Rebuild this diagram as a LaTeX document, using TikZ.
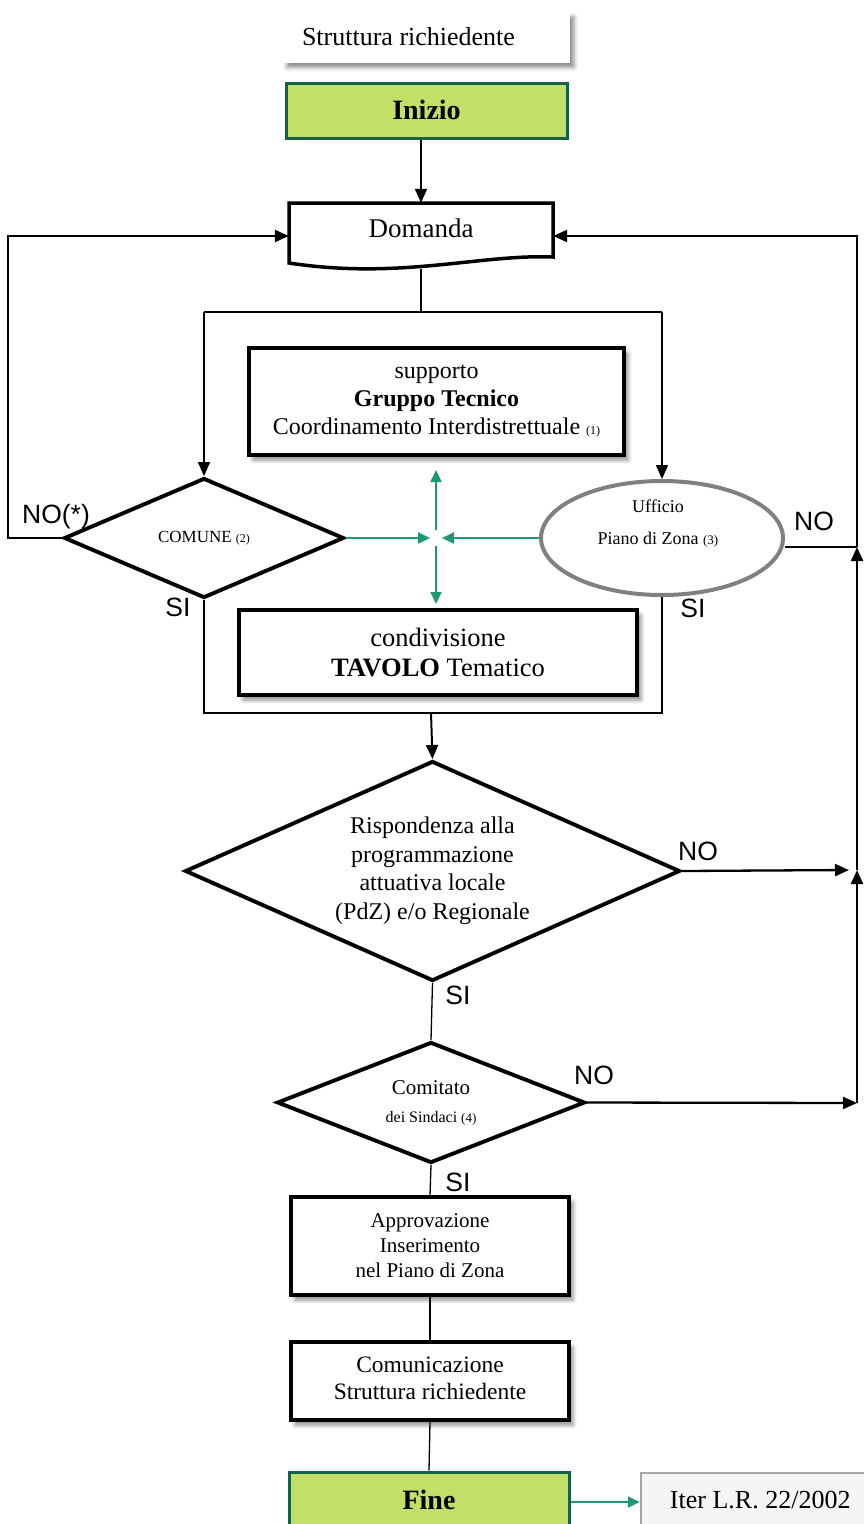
\documentclass[tikz,border=0pt]{standalone}
\usepackage{fontspec}
\setmainfont{Liberation Serif}
\newfontfamily\labfont{Liberation Sans}
\usetikzlibrary{arrows.meta,shapes.geometric,shadows.blur}
\definecolor{lgreen}{RGB}{194,224,104}
\definecolor{dgreen}{RGB}{22,98,70}
\definecolor{tgreen}{RGB}{30,152,112}
\definecolor{egray}{RGB}{128,128,128}
\newcommand{\fs}[2]{\fontsize{#1}{#2}\selectfont}
\tikzset{
  shad/.style={blur shadow={shadow xshift=4pt, shadow yshift=-5pt, shadow blur radius=4pt, shadow opacity=45}},
  box/.style={draw, line width=3.2pt, fill=white, align=center, inner sep=0pt, shad},
  stbox/.style={draw=dgreen, fill=lgreen, line width=3pt, inner sep=0pt, align=center},
  dia/.style={diamond, draw, line width=3.9pt, fill=white, inner sep=0pt, align=center},
  arr/.style={line width=2pt, -{Triangle[length=14pt,width=12pt]}},
  thinl/.style={line width=1.3pt},
  thickl/.style={line width=2.3pt},
  garr/.style={tgreen, line width=2.2pt, -{Triangle[length=12pt,width=11pt]}},
  lab/.style={font=\labfont\fs{26.5}{26.5}, inner sep=0pt}
}
\begin{document}
\begin{tikzpicture}[x=1pt,y=-1pt]
\useasboundingbox (0,0) rectangle (864,1524);
\clip (0,0) rectangle (864,1524);

% top boxes
\node[fill=white, shad, inner xsep=19pt, inner ysep=0pt, minimum height=51pt, text width=249pt, align=flush left, font=\fs{26}{30}] (str) at (426.5,37) {Struttura richiedente};
\node[stbox, minimum width=281pt, minimum height=55pt, font=\bfseries\fs{28}{30}] (ini) at (426.5,110.5) {\raisebox{2pt}{Inizio}};

% Domanda (document shape)
\node[minimum width=264pt, minimum height=66pt, inner sep=0pt] (dom) at (421,236) {};
\draw[line width=3.5pt, fill=white] (289,203) -- (553,203) -- (553,257)
   .. controls (480,254) and (400,280) .. (289,263) -- cycle;
\node[font=\fs{27}{30}, inner sep=0pt] (domt) at (421,228) {Domanda};

% Gruppo tecnico
\node[box, minimum width=375pt, minimum height=107pt, font=\fs{24}{28}] (gt) at (436.5,401.5)
  {supporto\\\textbf{Gruppo Tecnico}\\Coordinamento Interdistrettuale {\fs{12}{12}(1)}};

% COMUNE diamond
\node[dia, shape aspect=2.33, minimum width=280pt, minimum height=120pt, font=\fs{17}{20}] (com) at (204,538) {COMUNE {\fs{12}{12}(2)}};

% Ufficio ellipse
\node[ellipse, draw=egray, line width=4pt, fill=white, minimum width=242pt, minimum height=114pt, inner sep=0pt] (uff) at (662,538) {};
\node[font=\fs{18}{32}, align=center, inner sep=0pt] (ufft) at (658,524) {Ufficio\\Piano di Zona {\fs{13}{13}(3)}};

% TAVOLO
\node[box, minimum width=398pt, minimum height=85pt, font=\fs{26.5}{30}] (tav) at (438,652.5)
  {condivisione\\\textbf{TAVOLO} Tematico};

% Rispondenza diamond
\node[dia, shape aspect=2.25, minimum width=495pt, minimum height=220pt, font=\fs{24}{28.5}] (rsp) at (432.5,871)
  {Rispondenza alla\\programmazione\\attuativa locale\\(PdZ) e/o Regionale};

% Comitato diamond
\node[dia, shape aspect=2.55, minimum width=308pt, minimum height=121pt, font=\fs{21}{28}] (cmt) at (431,1102.5)
  {Comitato\\{\fs{16}{16}dei Sindaci {\fs{13}{13}(4)}}};

% Approvazione
\node[box, minimum width=278pt, minimum height=98pt, font=\fs{21}{25}] (app) at (430,1246)
  {Approvazione\\Inserimento\\nel Piano di Zona};

% Comunicazione
\node[box, minimum width=278pt, minimum height=78pt, font=\fs{23.5}{27}] (cmn) at (430,1381)
  {\raisebox{3pt}{\begin{tabular}{@{}c@{}}Comunicazione\\Struttura richiedente\end{tabular}}};

% Fine
\node[stbox, minimum width=280pt, minimum height=60pt, font=\bfseries\fs{28}{30}] (fine) at (429,1502) {\raisebox{5pt}{Fine}};

% Iter
\node[draw=gray!70, fill=gray!8, line width=2.5pt, minimum width=240pt, minimum height=58pt, inner sep=0pt, font=\fs{26}{30}] (iter) at (761,1502) {\hspace*{-1.5pt}\raisebox{4pt}{Iter L.R. 22/2002}};

% coordinates
\coordinate (sp) at (421,312);
\coordinate (sb) at (431,713);
\coordinate (r0) at (857,236);
\coordinate (r1) at (857,547);
\coordinate (r2) at (857,870);
\coordinate (r2a) at (849,870);
\coordinate (r3) at (857,1103);
\coordinate (xl) at (430,538);
\coordinate (xr) at (442,538);
\coordinate (xt) at (436,530);
\coordinate (xb) at (436,546);
\coordinate (xu) at (436,470);
\coordinate (xd) at (436,604);

% connectors
\draw[arr] (dom.north |- ini.south) -- (dom.north);
\draw[thinl] (dom.south) -- (sp);
\draw[thinl] (com.north |- sp) -- (uff.north |- sp);
\draw[arr, line width=1.6pt] (com.north |- sp) -- (com.north);
\draw[arr, line width=1.6pt] (uff.north |- sp) -- (uff.north);

\draw[arr, thickl] (com.west) -- ++(-54,0) |- (dom.west);
\draw[arr, thickl] (cmt.east) -- (r3);
\draw[arr, thickl] (r3) -- (r2);
\draw[arr, thickl] (rsp.east) -- (r2a);
\draw[arr, thickl] (r2) -- (r1);
\draw[thickl] (uff.east |- r1) -- (r1);
\draw[arr, thickl] (r1) -- (r0) -- (dom.east);

\draw[thinl] (com.south) |- (sb) -| (uff.south);
\draw[arr] (sb) -- (rsp.north);
\draw[thinl] (rsp.south) -- (cmt.north);
\draw[thinl] (cmt.south) -- (app.north);
\draw[thinl] (app.south) -- (cmn.north);
\draw[thinl] (cmn.south) -- (fine.north);

% green arrows
\draw[garr] (com.east) -- (xl);
\draw[garr] (uff.west) -- (xr);
\draw[garr] (xt) -- (xu);
\draw[garr] (xb) -- (xd);
\draw[garr] (fine.east) -- (iter.west);

% labels
\node[lab] (l1) at (56,517) {NO(*)};
\node[lab] (l2) at (814,521) {NO};
\node[lab] (l3) at (178,607) {SI};
\node[lab] (l4) at (693,608) {SI};
\node[lab] (l5) at (698,851) {NO};
\node[lab] (l6) at (458,995) {SI};
\node[lab] (l7) at (594,1075) {NO};
\node[lab] (l8) at (458,1182) {SI};
\end{tikzpicture}
\end{document}
